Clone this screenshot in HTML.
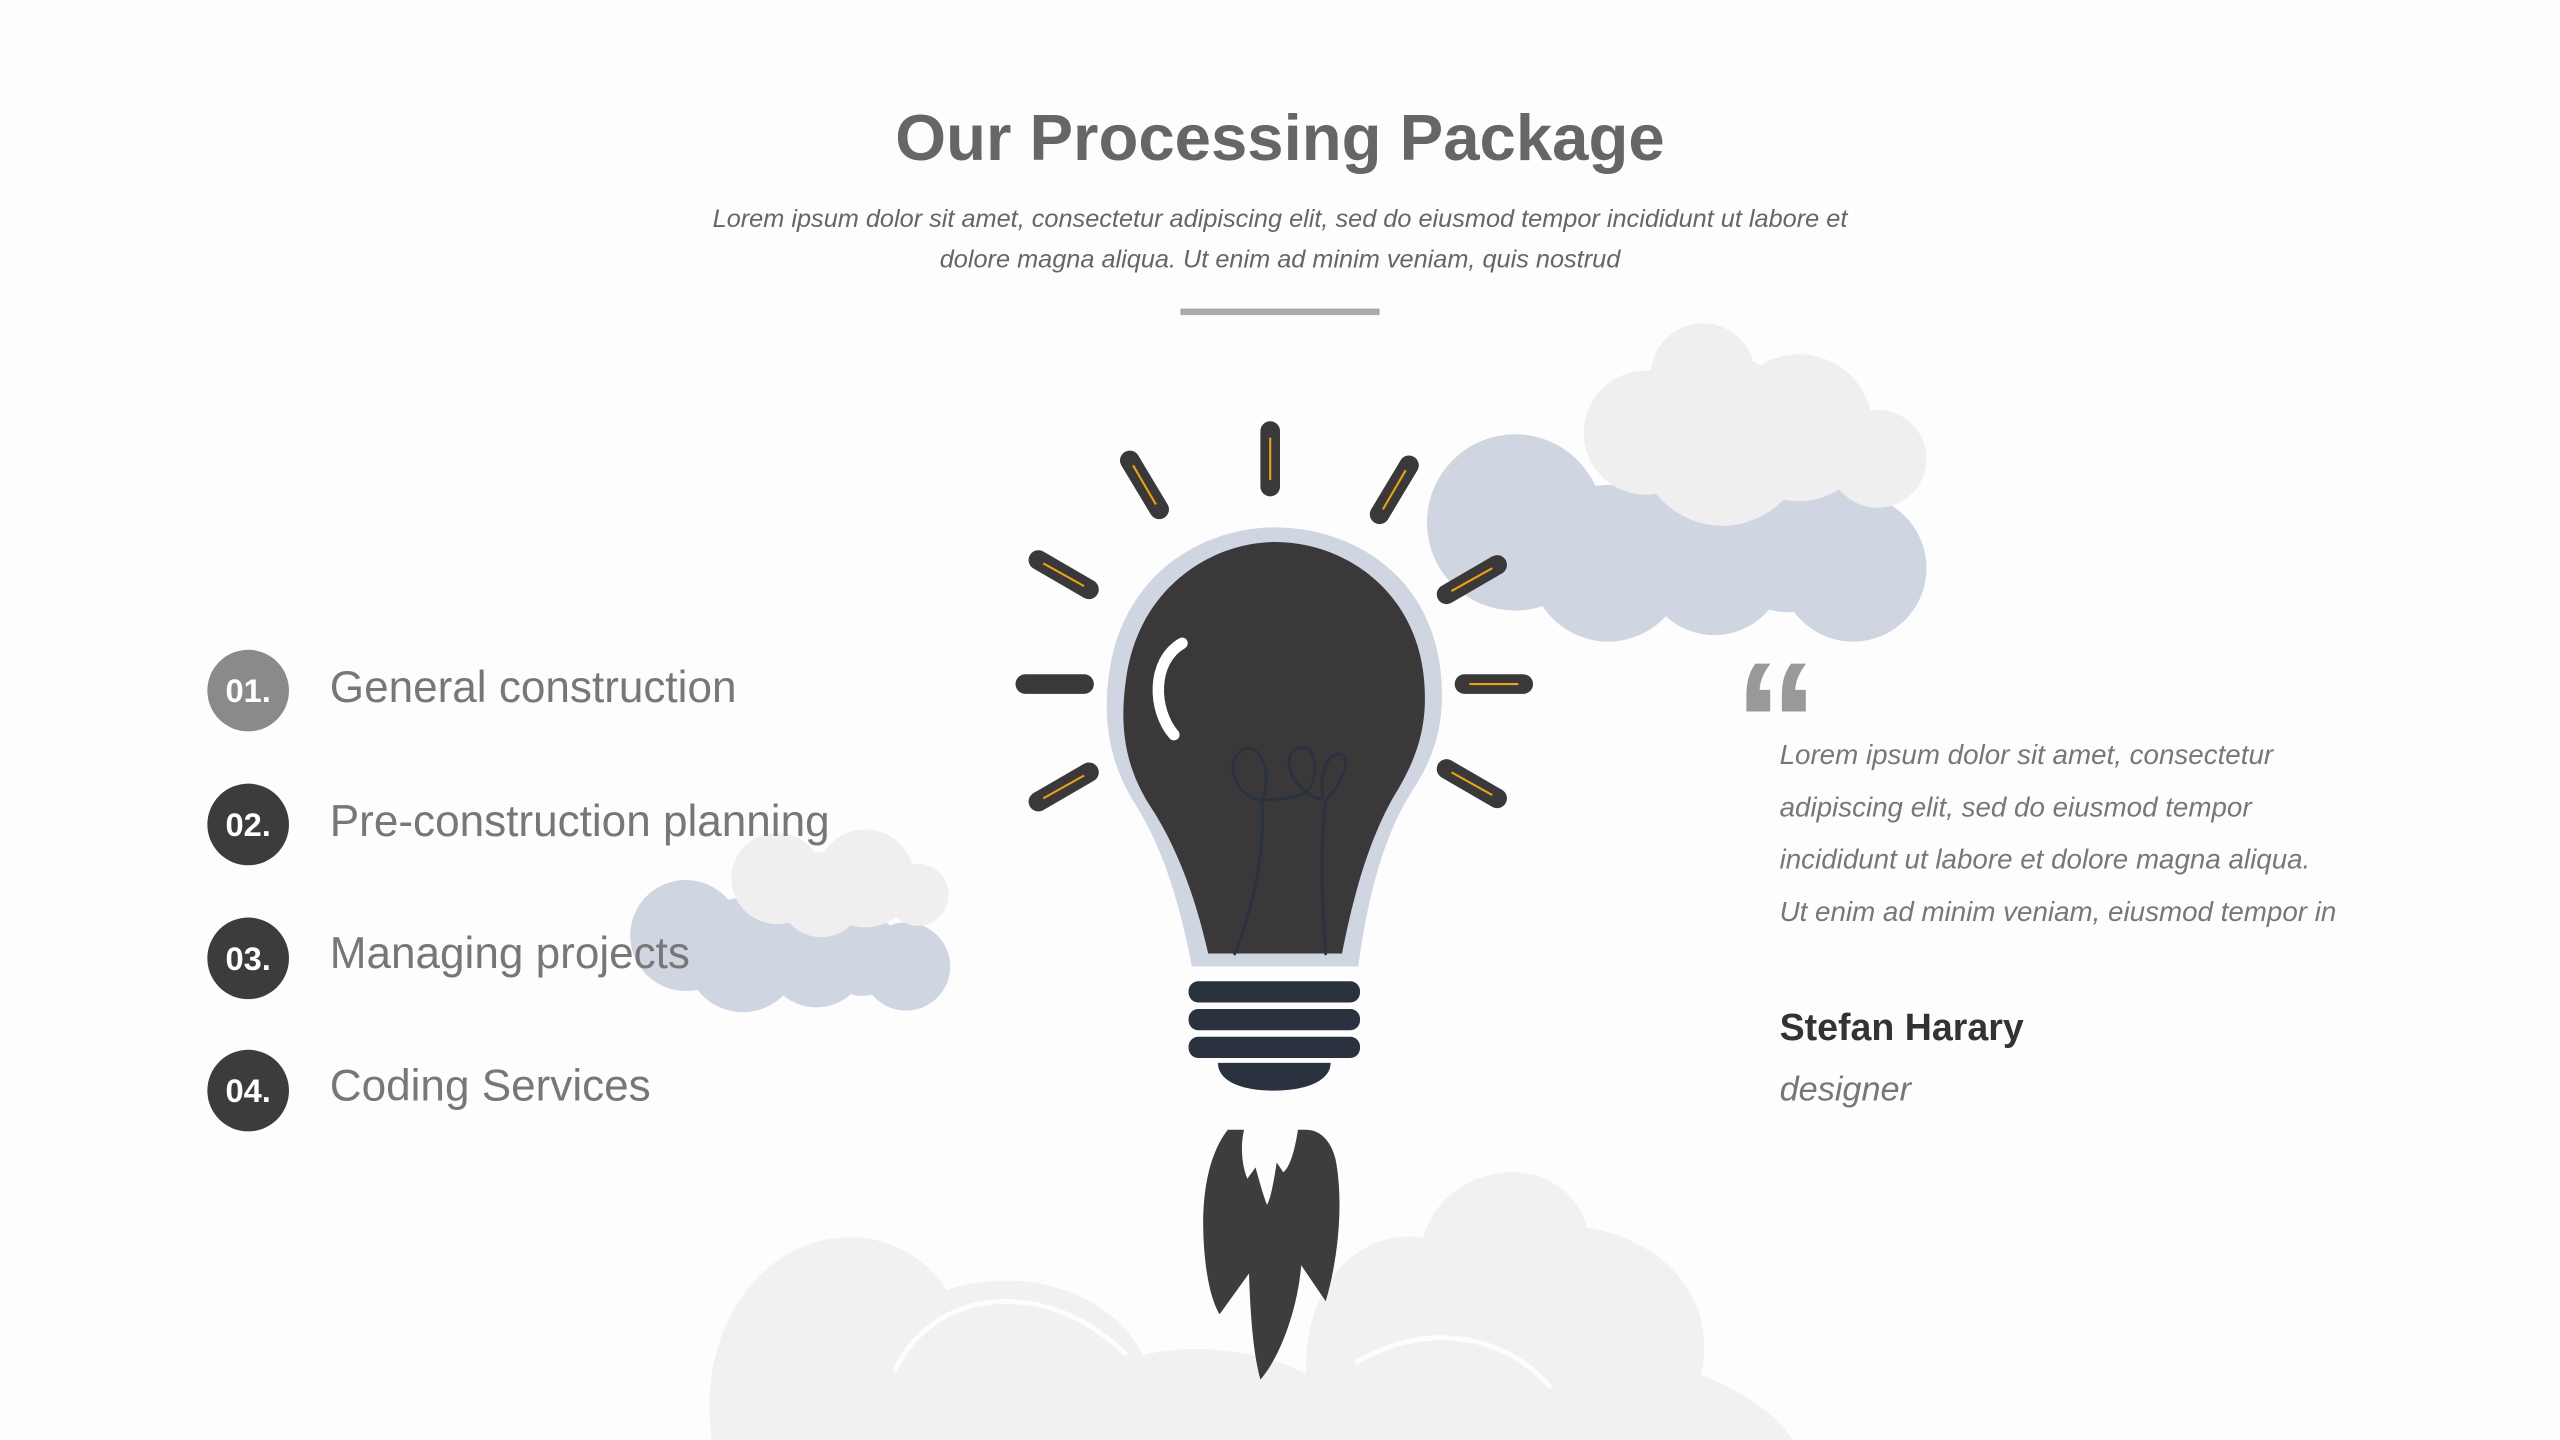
<!DOCTYPE html>
<html><head><meta charset="utf-8"><style>
html,body{margin:0;padding:0;background:#fdfdfd;width:2560px;height:1440px;overflow:hidden;}
svg{display:block;}
text{font-family:"Liberation Sans",sans-serif;}
</style></head><body>
<svg width="2560" height="1440" viewBox="0 0 1568 882" xmlns="http://www.w3.org/2000/svg">
<rect width="1568" height="882" fill="#fdfdfd"/>
<!-- bottom cloud -->
<path d="M436,882 C426,810 470,755 525,758 C555,760 572,778 580,790 C625,775 680,790 700,830 C740,820 785,832 800,842 C798,790 830,752 872,758 C880,728 912,712 942,720 C962,728 970,742 972,752 C1020,760 1052,795 1042,842 C1068,852 1090,868 1098,882 Z" fill="#f1f1f1"/>
<path d="M548,840 C570,790 640,780 690,830" stroke="#fdfdfd" stroke-width="3" fill="none"/>
<path d="M830,835 C870,810 920,815 950,850" stroke="#fdfdfd" stroke-width="3" fill="none"/>
<!-- top right cloud -->
<g fill="#cfd5e1">
<circle cx="928" cy="320" r="54"/><circle cx="985" cy="345" r="48"/><circle cx="1050" cy="345" r="44"/>
<circle cx="1095" cy="335" r="40"/><circle cx="1135" cy="348" r="45"/><rect x="930" y="300" width="200" height="50"/>
</g>
<g fill="#efefef">
<circle cx="1008" cy="265" r="38"/><circle cx="1043" cy="230" r="32"/><circle cx="1055" cy="270" r="52"/>
<circle cx="1102" cy="262" r="45"/><circle cx="1150" cy="281" r="30"/>
</g>
<!-- left small cloud -->
<g fill="#cfd5e1">
<circle cx="420" cy="573" r="34"/><circle cx="455" cy="585" r="35"/><circle cx="500" cy="585" r="32"/>
<circle cx="528" cy="585" r="25"/><circle cx="555" cy="592" r="27"/>
</g>
<g fill="#efefef">
<circle cx="476" cy="538" r="28"/><circle cx="503" cy="548" r="26"/><circle cx="530" cy="538" r="30"/><circle cx="562" cy="548" r="19"/>
</g>
<!-- title -->
<text x="784" y="98" text-anchor="middle" font-size="40" font-weight="bold" fill="#666">Our Processing Package</text>
<text x="784" y="139" text-anchor="middle" font-size="15.5" font-style="italic" fill="#666">Lorem ipsum dolor sit amet, consectetur adipiscing elit, sed do eiusmod tempor incididunt ut labore et</text>
<text x="784" y="164" text-anchor="middle" font-size="15.5" font-style="italic" fill="#666">dolore magna aliqua. Ut enim ad minim veniam, quis nostrud</text>
<rect x="723" y="189" width="122" height="4" fill="#aaa"/>
<!-- rays -->
<g stroke="#3a3839" stroke-width="12" stroke-linecap="round">
<line x1="778" y1="264" x2="778" y2="298"/><line x1="692" y1="282" x2="710" y2="312"/><line x1="863" y1="285" x2="845" y2="315"/>
<line x1="636" y1="343" x2="667" y2="361"/><line x1="628" y1="419" x2="664" y2="419"/><line x1="636" y1="491" x2="667" y2="473"/>
<line x1="917" y1="346" x2="886" y2="364"/><line x1="897" y1="419" x2="933" y2="419"/><line x1="886" y1="471" x2="917" y2="489"/>
</g>
<g stroke="#e8a317" stroke-width="1.3">
<line x1="778" y1="268" x2="778" y2="294"/><line x1="694" y1="285" x2="708" y2="309"/><line x1="861" y1="288" x2="847" y2="312"/>
<line x1="639" y1="345" x2="664" y2="359"/><line x1="639" y1="489" x2="664" y2="475"/>
<line x1="914" y1="348" x2="889" y2="362"/><line x1="900" y1="419" x2="930" y2="419"/><line x1="889" y1="473" x2="914" y2="487"/>
</g>
<!-- bulb -->
<path d="M730,592 C724,560 714,522 695,492 C676,462 676,432 680,408 C690,350 738,323 781,323 C826,323 874,350 882,408 C886,440 880,462 864,486 C845,516 836,560 832,592 Z" fill="#cfd5e1"/>
<path d="M740,584 C733,553 722,520 704,493 C687,466 686,440 690,414 C698,360 742,332 781,332 C822,332 866,360 872,414 C875,442 869,462 856,484 C838,513 828,553 822,584 Z" fill="#3a3839"/>
<path d="M724,394 C705,405 706,435 719,450" stroke="#fff" stroke-width="7" stroke-linecap="round" fill="none"/>
<g stroke="#2a3240" stroke-width="1.6" fill="none">
<path d="M756,585 C768,555 775,520 773,490 C760,490 748,470 760,460 C772,452 780,475 773,490 C785,490 795,488 800,485 C790,478 785,462 795,458 C808,455 808,478 800,485 C806,490 810,490 810,488 C808,470 815,460 822,462 C828,468 820,482 812,490 C808,520 810,555 812,585"/>
</g>
<!-- base -->
<g fill="#2a3240">
<rect x="728" y="601" width="105" height="13" rx="6"/><rect x="728" y="618" width="105" height="13" rx="6"/><rect x="728" y="635" width="105" height="13" rx="6"/>
<path d="M746,651 L815,651 C815,662 800,668 780,668 C760,668 746,662 746,651 Z"/>
</g>
<!-- flames -->
<path d="M752,692 C738,710 735,740 738,770 C740,790 744,800 747,805 L765,780 C766,810 768,830 772,845 C785,830 795,800 797,775 L812,797 C820,770 823,735 818,710 C815,698 808,692 800,692 L795,692 C793,705 790,715 786,718 L782,712 C780,725 778,735 776,738 C773,730 771,722 769,715 L764,722 C760,712 760,700 762,692 Z" fill="#3d3d3d"/>
<!-- list -->
<circle cx="152" cy="423" r="25" fill="#8a8a8a"/><circle cx="152" cy="505" r="25" fill="#3d3b3c"/>
<circle cx="152" cy="587" r="25" fill="#3d3b3c"/><circle cx="152" cy="668" r="25" fill="#3d3b3c"/>
<g fill="#fff" font-size="20" font-weight="bold" text-anchor="middle">
<text x="152" y="430">01.</text><text x="152" y="512">02.</text><text x="152" y="594">03.</text><text x="152" y="675">04.</text>
</g>
<g fill="#777" font-size="27">
<text x="202" y="430">General construction</text><text x="202" y="512">Pre-construction planning</text>
<text x="202" y="593">Managing projects</text><text x="202" y="674">Coding Services</text>
</g>
<!-- quote -->
<text x="1062" y="478" font-family="Liberation Serif" font-size="104" font-weight="bold" fill="#999">“</text>
<g fill="#777" font-size="17" font-style="italic">
<text x="1090" y="468">Lorem ipsum dolor sit amet, consectetur</text>
<text x="1090" y="500">adipiscing elit, sed do eiusmod tempor</text>
<text x="1090" y="532">incididunt ut labore et dolore magna aliqua.</text>
<text x="1090" y="564">Ut enim ad minim veniam, eiusmod tempor  in</text>
</g>
<text x="1090" y="637" font-size="23" font-weight="bold" fill="#333">Stefan Harary</text>
<text x="1090" y="674" font-size="21" font-style="italic" fill="#777">designer</text>
</svg>
</body></html>
